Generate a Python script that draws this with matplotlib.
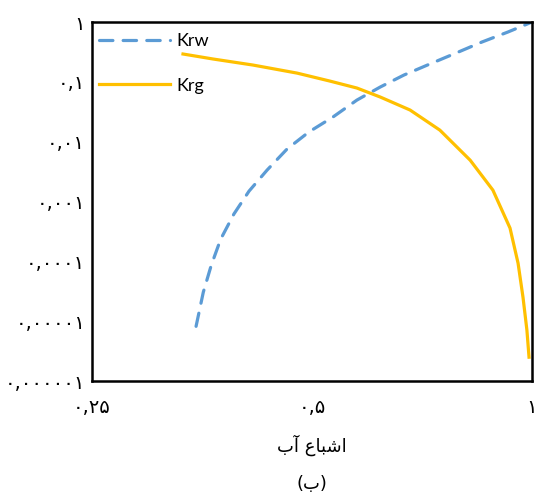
import matplotlib
matplotlib.use("Agg")
import matplotlib.pyplot as plt
from matplotlib.ticker import FixedLocator, FixedFormatter, NullLocator

# water saturation vs relative permeability
sw_w = [0.347, 0.355, 0.364, 0.375, 0.391, 0.410, 0.434, 0.462, 0.495, 0.534,
        0.576, 0.620, 0.668, 0.725, 0.787, 0.854, 0.927, 1.0]
krw = [8.2e-6, 3.05e-5, 8.6e-5, 2.35e-4, 6.2e-4, 1.49e-3, 3.35e-3, 7.5e-3, 0.0145, 0.0258,
       0.0496, 0.082, 0.130, 0.199, 0.303, 0.463, 0.681, 1.0]

sw_g = [0.333, 0.366, 0.415, 0.477, 0.529, 0.576, 0.620, 0.681, 0.748,
        0.823, 0.884, 0.933, 0.957, 0.972, 0.984, 0.9906]
krg = [0.292, 0.241, 0.191, 0.140, 0.103, 0.0788, 0.0557, 0.0338, 0.0156,
       4.9e-3, 1.55e-3, 3.6e-4, 9.3e-5, 2.5e-5, 7.1e-6, 2.5e-6]

x_ticks = [0.25, 0.5, 1.0]
x_labels = ["۰,۲۵", "۰,۵", "۱"]
y_ticks = [1e-6, 1e-5, 1e-4, 1e-3, 1e-2, 1e-1, 1.0]
y_labels = ["۰,۰۰۰۰۰۱", "۰,۰۰۰۰۱", "۰,۰۰۰۱", "۰,۰۰۱", "۰,۰۱", "۰,۱", "۱"]

# Persian text in visual order with presentation forms (no shaping in matplotlib)
xlabel = "\uFE8F\uFE81 \uFEC9\uFE8E\uFE92\uFEB7\uFE8D"   # اشباع آب
caption = "(\uFE8F)"                                     # (ب)

fig = plt.figure(figsize=(5.46, 4.97), dpi=100)
ax = fig.add_axes([0.1685, 0.2334, 0.8059, 0.7223])

ax.plot(sw_w, krw, color="#5B9BD5", lw=2.3, dashes=(4.2, 3.2),
        dash_capstyle="round", label="Krw")
ax.plot(sw_g, krg, color="#FFC000", lw=2.3, label="Krg")

ax.set_xscale("log")
ax.set_yscale("log")
ax.set_xlim(0.25, 1.0)
ax.set_ylim(1e-6, 1.0)

ax.xaxis.set_major_locator(FixedLocator(x_ticks))
ax.xaxis.set_major_formatter(FixedFormatter(x_labels))
ax.yaxis.set_major_locator(FixedLocator(y_ticks))
ax.yaxis.set_major_formatter(FixedFormatter(y_labels))
ax.xaxis.set_minor_locator(NullLocator())
ax.yaxis.set_minor_locator(NullLocator())
ax.tick_params(axis="both", length=0, labelsize=14)
ax.tick_params(axis="x", pad=12)
ax.tick_params(axis="y", pad=5)

for s in ax.spines.values():
    s.set_linewidth(1.8)

ax.legend(loc="upper left", bbox_to_anchor=(0.0, 0.99), frameon=False,
          prop={"family": "Lato", "size": 13}, handlelength=3.9,
          handletextpad=0.4, labelspacing=1.6, borderaxespad=0.1, borderpad=0.3)

fig.text(0.572, 0.105, xlabel, ha="center", va="center", fontsize=13)
fig.text(0.572, 0.026, caption, ha="center", va="center", fontsize=13)

fig.savefig("out.png", dpi=100)
